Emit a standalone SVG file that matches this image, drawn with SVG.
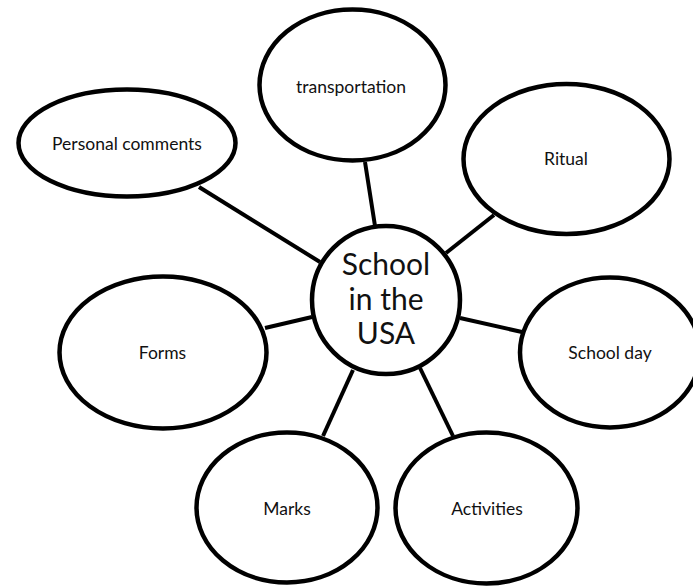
<svg xmlns="http://www.w3.org/2000/svg" width="693" height="587" viewBox="0 0 693 587">
<style>
.n{fill:#fff;stroke:#000;stroke-width:4.5}
.c line{stroke:#000;stroke-width:4}
text{font-family:Lato,"Open Sans","Liberation Sans",sans-serif;fill:#111;text-anchor:middle}
.s{font-size:17.5px}
.b{font-size:30px}
</style>
<rect width="693" height="587" fill="#fff"/>
<g id="connectors" class="c">
<line x1="199" y1="187" x2="320" y2="262"/>
<line x1="365" y1="162" x2="375" y2="226"/>
<line x1="494" y1="215" x2="446" y2="253"/>
<line x1="265" y1="328" x2="312" y2="317"/>
<line x1="460" y1="318" x2="522" y2="332"/>
<line x1="323" y1="436" x2="353" y2="370"/>
<line x1="420" y1="368" x2="453" y2="436"/>
</g>
<g id="personal-comments"><ellipse class="n" cx="127" cy="143" rx="108.5" ry="53.5"/><text class="s" x="127" y="150">Personal comments</text></g>
<g id="transportation"><ellipse class="n" cx="352.5" cy="85" rx="93" ry="75.5"/><text class="s" x="351" y="93">transportation</text></g>
<g id="ritual"><ellipse class="n" cx="566.5" cy="159" rx="103" ry="75"/><text class="s" x="566" y="165">Ritual</text></g>
<g id="forms"><ellipse class="n" cx="163" cy="352.5" rx="103.5" ry="76"/><text class="s" x="162.5" y="359">Forms</text></g>
<g id="school-day"><ellipse class="n" cx="610" cy="352.5" rx="90" ry="75"/><text class="s" x="610" y="359">School day</text></g>
<g id="marks"><ellipse class="n" cx="287" cy="507.5" rx="90.5" ry="75"/><text class="s" x="287" y="515">Marks</text></g>
<g id="activities"><ellipse class="n" cx="486.5" cy="508" rx="91" ry="75.5"/><text class="s" x="487" y="515">Activities</text></g>
<g id="center"><circle class="n" cx="386" cy="300" r="74"/><text class="b" x="386" y="275">School</text><text class="b" x="386" y="310">in the</text><text class="b" x="386" y="344">USA</text></g>
</svg>
